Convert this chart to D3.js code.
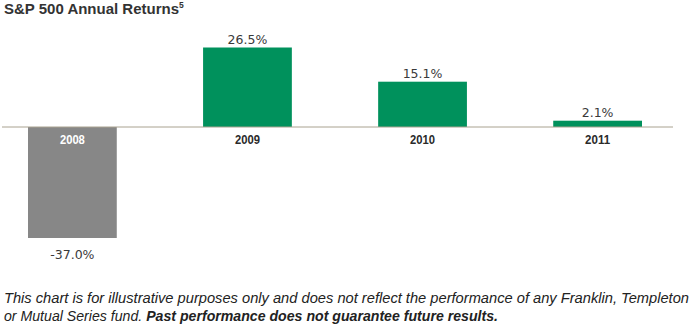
<!DOCTYPE html>
<html>
<head>
<meta charset="utf-8">
<script src="https://cdn.jsdelivr.net/npm/d3@7/dist/d3.min.js"></script>
<style>
  body { margin: 0; background: #fff; }
  svg { display: block; }
</style>
</head>
<body>
<div id="chart"></div>
<script>
var years = ["2008", "2009", "2010", "2011"];
var returns = [-37.0, 26.5, 15.1, 2.1];
var labels = ["-37.0%", "26.5%", "15.1%", "2.1%"];

var w = 692, h = 326;

var svg = d3.select("#chart").append("svg")
  .attr("width", w)
  .attr("height", h);

// title
var title = svg.append("text")
  .attr("x", 4)
  .attr("y", 14)
  .attr("font-family", "'Liberation Sans', Arial, sans-serif")
  .attr("font-weight", "bold")
  .attr("font-size", "15px")
  .attr("fill", "#333");
title.append("tspan").text("S&P 500 Annual Returns");
title.append("tspan").text("5").attr("font-size", "8.5px").attr("dy", -6);

var xScale = d3.scaleBand()
  .domain(years)
  .range([28, 642])
  .paddingInner(0.493)
  .paddingOuter(0);

var yScale = d3.scaleLinear()
  .domain([-37, 26.5])
  .range([238, 47.5]);

var y0 = yScale(0);

svg.selectAll("rect.bar")
  .data(returns)
  .enter()
  .append("rect")
  .attr("class", "bar")
  .attr("x", function(d, i) { return xScale(years[i]); })
  .attr("y", function(d) { return d > 0 ? yScale(d) : y0; })
  .attr("width", xScale.bandwidth())
  .attr("height", function(d) { return Math.abs(yScale(d) - y0); })
  .attr("fill", function(d) { return d < 0 ? "#878787" : "#00915c"; });

// zero line
svg.append("line")
  .attr("x1", 2)
  .attr("x2", 673)
  .attr("y1", y0)
  .attr("y2", y0)
  .attr("stroke", "#a9a290")
  .attr("stroke-width", 1);

// year labels
svg.selectAll("text.year")
  .data(years)
  .enter()
  .append("text")
  .attr("class", "year")
  .text(function(d) { return d; })
  .attr("x", function(d) { return xScale(d) + xScale.bandwidth() / 2; })
  .attr("y", y0 + 17)
  .attr("text-anchor", "middle")
  .attr("font-family", "'Liberation Sans', Arial, sans-serif")
  .attr("font-weight", "bold")
  .attr("font-size", "13px")
  .attr("textLength", 25)
  .attr("lengthAdjust", "spacingAndGlyphs")
  .attr("fill", function(d, i) { return returns[i] < 0 ? "#fff" : "#2a2a2a"; });

// value labels
svg.selectAll("text.value")
  .data(returns)
  .enter()
  .append("text")
  .attr("class", "value")
  .text(function(d, i) { return labels[i]; })
  .attr("x", function(d, i) { return xScale(years[i]) + xScale.bandwidth() / 2; })
  .attr("y", function(d) { return d > 0 ? yScale(d) - 4 : yScale(d) + 21; })
  .attr("text-anchor", "middle")
  .attr("font-family", "'DejaVu Sans', sans-serif")
  .attr("font-size", "12.5px")
  .attr("fill", "#3a3a3a");

// footnote
var foot = svg.append("g")
  .attr("font-family", "'Liberation Sans', Arial, sans-serif")
  .attr("font-style", "italic")
  .attr("font-size", "14px")
  .attr("fill", "#222");
foot.append("text")
  .attr("x", 4)
  .attr("y", 303)
  .attr("textLength", 685)
  .attr("lengthAdjust", "spacingAndGlyphs")
  .text("This chart is for illustrative purposes only and does not reflect the performance of any Franklin, Templeton");
var l2 = foot.append("text")
  .attr("x", 4)
  .attr("y", 321)
  .attr("textLength", 494)
  .attr("lengthAdjust", "spacingAndGlyphs");
l2.append("tspan").text("or Mutual Series fund. ");
l2.append("tspan").attr("font-weight", "bold").text("Past performance does not guarantee future results.");
</script>
</body>
</html>
